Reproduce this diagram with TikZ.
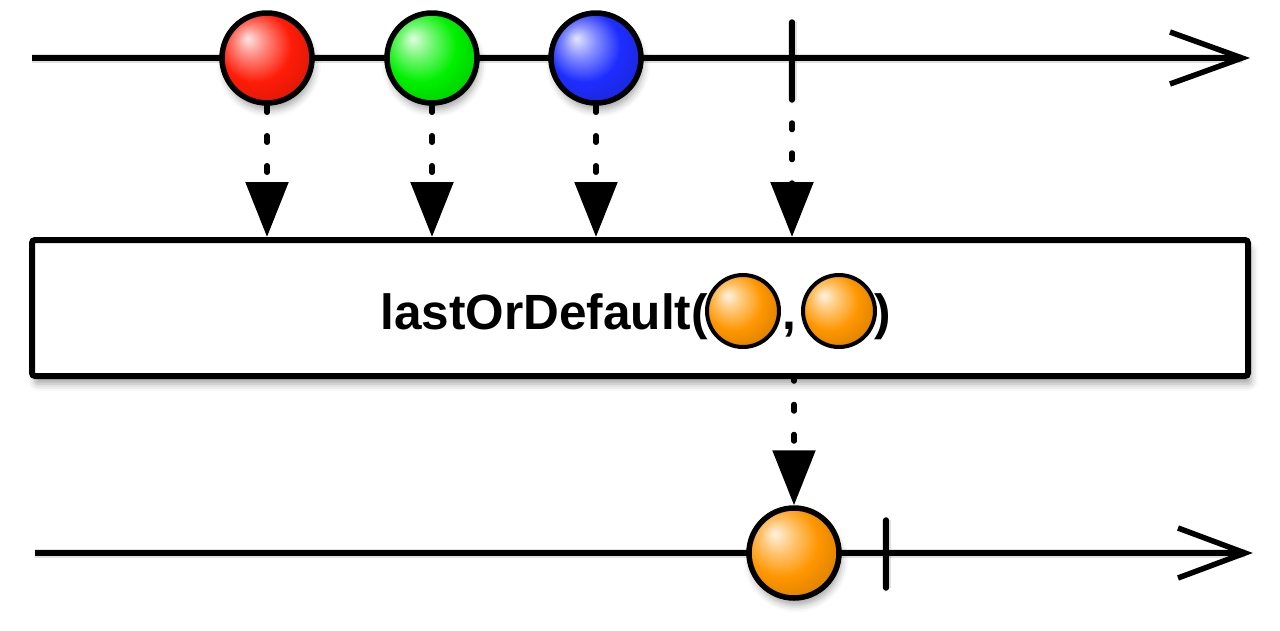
\documentclass[tikz,border=0pt]{standalone}
\usepackage{fontspec}
\setmainfont{Liberation Sans}
\usetikzlibrary{arrows.meta,shadows.blur}
\definecolor{cred}{RGB}{255,28,8}
\definecolor{cgreen}{RGB}{0,240,0}
\definecolor{cblue}{RGB}{30,45,255}
\definecolor{corange}{RGB}{255,150,0}
\newcommand{\mkball}[2]{%
  \pgfdeclareradialshading{#1}{\pgfqpoint{-11bp}{11bp}}{%
    color(0bp)=(#2!12!white); color(9bp)=(#2!55!white); color(20bp)=(#2);
    color(30bp)=(#2!88!black); color(40bp)=(#2!58!black); color(50bp)=(#2!45!black)}}
\mkball{redball}{cred}
\mkball{greenball}{cgreen}
\mkball{blueball}{cblue}
\mkball{orangeball}{corange}
\begin{document}
\begin{tikzpicture}[x=1pt,y=-1pt,
  ball/.style={circle,draw=black,line width=5.5pt,minimum size=90pt,inner sep=0pt,shading=#1,
    blur shadow={shadow xshift=2pt,shadow yshift=-7pt,shadow blur radius=7pt,shadow opacity=35}},
  smallball/.style={circle,draw=black,line width=4pt,minimum size=72pt,inner sep=0pt,shading=#1},
  axis/.style={line width=5.5pt},
  axshadow/.style={line width=9pt,draw=black,opacity=0.12,yshift=-5pt},
  barb/.style={line width=5.5pt,line join=miter,line cap=butt},
  tickmark/.style={line width=5.5pt,line cap=round},
  flow/.style={line width=5.5pt,line cap=round,dash pattern=on 6.5pt off 23.5pt,
    -{Triangle[length=55pt,width=42pt]}},
  opbox/.style={draw=black,fill=white,line width=6pt,rounded corners=3pt,
    minimum width=1216pt,minimum height=136pt,
    blur shadow={shadow xshift=3pt,shadow yshift=-8pt,shadow blur radius=7pt,shadow opacity=35}},
  lbl/.style={inner sep=0pt,font=\bfseries\fontsize{49.5}{58}\selectfont}
]
\useasboundingbox (0,0) rectangle (1280,630);
% coordinates
\coordinate (s1) at (32,58);
\coordinate (e1) at (1242,58);
\coordinate (s2) at (35,553);
\coordinate (e2) at (1245,553);
\coordinate (t1a) at (792,22);
\coordinate (t1b) at (792,100);
\coordinate (t2a) at (886,520);
\coordinate (t2b) at (886,588);
% line shadows
\draw[axshadow] (s1) -- (e1);
\draw[axshadow] (s2) -- (e2);
\draw[axshadow] (t1a) -- (t1b);
\draw[axshadow] (t2a) -- (t2b);
% axes
\draw[axis] (s1) -- (e1);
\draw[barb] (e1) ++(-72,-26) -- (e1) -- ++(-72,26);
\draw[axis] (s2) -- (e2);
\draw[barb] (e2) ++(-67,-25) -- (e2) -- ++(-67,25);
\draw[tickmark] (t1a) -- (t1b);
\draw[tickmark] (t2a) -- (t2b);
% balls
\node[ball=redball] (r) at (267,58) {};
\node[ball=greenball] (g) at (432,58) {};
\node[ball=blueball] (b) at (596,58) {};
% box
\node[opbox] (box) at (640,308) {};
\node[lbl,anchor=base east] (txt) at (708,329) {lastOrDefault(};
\node[smallball=orangeball] (b1) at (743,311) {};
\node[lbl,anchor=base] (comma) at (789,329) {,};
\node[smallball=orangeball] (b2) at (839,311) {};
\node[lbl,anchor=base west] (close) at (874,329) {)};
% output ball
\node[ball=orangeball] (o) at (794,553) {};
% flows
\draw[flow] (r.south) -- (r.south |- box.north);
\draw[flow] (g.south) -- (g.south |- box.north);
\draw[flow] (b.south) -- (b.south |- box.north);
\draw[flow,dash phase=7pt] (t1b) -- (t1b |- box.north);
\draw[flow,dash phase=4.5pt] (box.south -| o) -- (o.north);
\end{tikzpicture}
\end{document}
